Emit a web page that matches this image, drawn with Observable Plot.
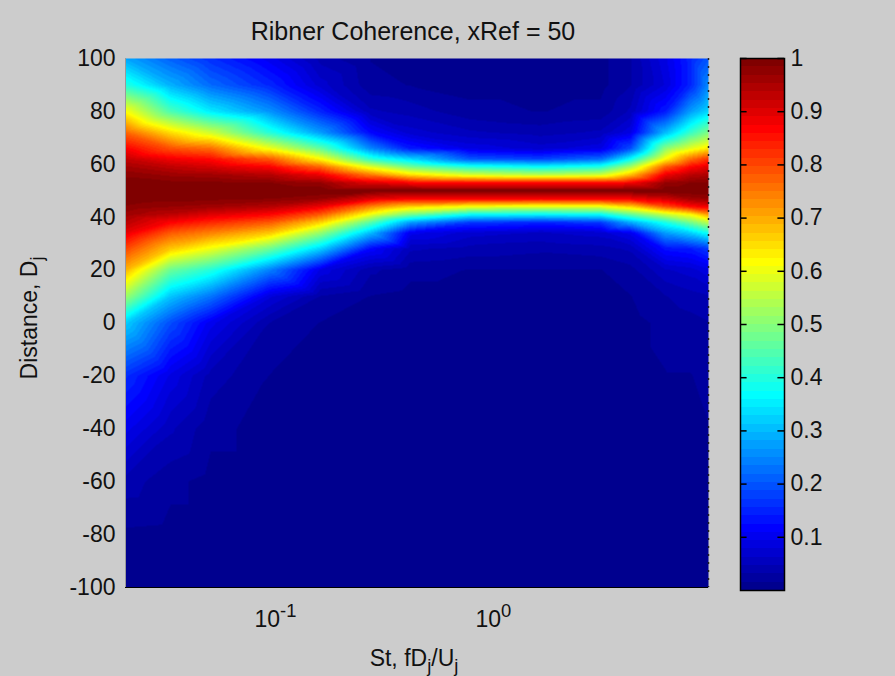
<!DOCTYPE html>
<html>
<head>
<meta charset="utf-8">
<script src="https://cdn.jsdelivr.net/npm/d3@7"></script>
<script src="https://cdn.jsdelivr.net/npm/@observablehq/plot@0.6"></script>
<style>
  html, body { margin: 0; padding: 0; background: #cccccc; }
  #fig { position: relative; width: 895px; height: 676px; background: #cccccc;
         font-family: "Liberation Sans", Arial, Helvetica, sans-serif; }
  #fig svg { position: absolute; left: 0; top: 0; overflow: visible; }
</style>
</head>
<body>
<div id="fig"></div>
<script>
// Strouhal numbers of the sampled columns (log-spaced across the band)
const st = [0.0205, 0.033, 0.0504, 0.0948, 0.161, 0.273, 0.416, 0.784, 1.64, 3.10, 4.25, 6.15, 8.02, 9.7];

// Axial distance of each sample row, in jet diameters
const distance = [-100, -80, -60, -40, -20, 0, 10, 20, 28, 34, 38, 41, 44, 47, 50, 53, 56, 59, 62, 66, 72, 80, 90, 100];

// Coherence with the reference point xRef = 50, one row per Strouhal number
// (values listed from distance -100 up to +100)
const coherence = [
  [0.01, 0.012, 0.04, 0.10, 0.16, 0.32, 0.52, 0.69, 0.80, 0.89, 0.935, 0.962, 0.983, 0.996, 1, 0.995, 0.98, 0.957, 0.925, 0.87, 0.77, 0.615, 0.40, 0.28],
  [0.01, 0.01, 0.02, 0.05, 0.09, 0.19, 0.31, 0.47, 0.67, 0.78, 0.869, 0.932, 0.97, 0.992, 1, 0.99, 0.965, 0.93, 0.88, 0.79, 0.65, 0.44, 0.29, 0.21],
  [0.01, 0.01, 0.01, 0.02, 0.04, 0.10, 0.23, 0.40, 0.60, 0.74, 0.83, 0.90, 0.96, 0.99, 1, 0.99, 0.96, 0.91, 0.86, 0.76, 0.57, 0.35, 0.22, 0.16],
  [0.01, 0.01, 0.01, 0.01, 0.015, 0.03, 0.08, 0.24, 0.47, 0.67, 0.78, 0.865, 0.94, 0.985, 1, 0.985, 0.94, 0.87, 0.78, 0.60, 0.40, 0.26, 0.15, 0.10],
  [0.01, 0.01, 0.01, 0.01, 0.01, 0.015, 0.03, 0.09, 0.32, 0.51, 0.66, 0.78, 0.885, 0.97, 1, 0.97, 0.885, 0.77, 0.62, 0.46, 0.27, 0.15, 0.07, 0.04],
  [0.01, 0.01, 0.01, 0.01, 0.01, 0.01, 0.015, 0.035, 0.12, 0.30, 0.45, 0.60, 0.74, 0.90, 1, 0.90, 0.75, 0.59, 0.41, 0.25, 0.12, 0.05, 0.02, 0.015],
  [0.01, 0.01, 0.01, 0.01, 0.01, 0.01, 0.01, 0.02, 0.05, 0.10, 0.27, 0.48, 0.66, 0.875, 1, 0.87, 0.65, 0.48, 0.33, 0.14, 0.07, 0.04, 0.015, 0.01],
  [0.01, 0.01, 0.01, 0.01, 0.01, 0.01, 0.01, 0.015, 0.04, 0.07, 0.17, 0.37, 0.61, 0.875, 1, 0.86, 0.58, 0.40, 0.20, 0.09, 0.05, 0.02, 0.01, 0.01],
  [0.01, 0.01, 0.01, 0.01, 0.01, 0.01, 0.01, 0.015, 0.035, 0.06, 0.15, 0.36, 0.59, 0.875, 1, 0.86, 0.55, 0.37, 0.18, 0.07, 0.04, 0.015, 0.01, 0.01],
  [0.01, 0.01, 0.01, 0.01, 0.01, 0.01, 0.01, 0.015, 0.04, 0.07, 0.17, 0.37, 0.60, 0.875, 1, 0.86, 0.57, 0.40, 0.22, 0.09, 0.05, 0.02, 0.01, 0.01],
  [0.01, 0.01, 0.01, 0.01, 0.01, 0.01, 0.015, 0.025, 0.05, 0.10, 0.28, 0.46, 0.66, 0.88, 1, 0.875, 0.68, 0.53, 0.37, 0.19, 0.09, 0.05, 0.03, 0.03],
  [0.01, 0.01, 0.01, 0.01, 0.015, 0.02, 0.03, 0.06, 0.13, 0.27, 0.39, 0.56, 0.79, 0.915, 1, 0.97, 0.885, 0.78, 0.62, 0.50, 0.30, 0.14, 0.08, 0.09],
  [0.01, 0.01, 0.01, 0.01, 0.015, 0.025, 0.04, 0.07, 0.14, 0.32, 0.48, 0.62, 0.86, 0.96, 1, 0.985, 0.935, 0.865, 0.76, 0.59, 0.42, 0.27, 0.15, 0.15],
  [0.01, 0.01, 0.01, 0.015, 0.02, 0.03, 0.045, 0.09, 0.17, 0.38, 0.55, 0.71, 0.885, 0.97, 1, 0.99, 0.95, 0.90, 0.82, 0.64, 0.49, 0.33, 0.25, 0.20]
];

const xTicks = [0.1, 1];
const yTicks = [-100, -80, -60, -40, -20, 0, 20, 40, 60, 80, 100];
const cbTicks = [0.1, 0.2, 0.3, 0.4, 0.5, 0.6, 0.7, 0.8, 0.9, 1];

const W = 895, H = 676;
const FONT = '"Liberation Sans", Arial, Helvetica, sans-serif';
const INK = "#111";
const xDomain = [st[0], st[st.length - 1]];

// 64-level jet colormap
const NLEV = 64;
function jet(t) {
  const i = Math.max(0, Math.min(NLEV - 1, Math.floor(t * NLEV)));
  const x = (i + 1) / NLEV;
  const c = v => Math.round(255 * Math.max(0, Math.min(1, v)));
  return `rgb(${c(1.5 - Math.abs(4 * x - 3))},${c(1.5 - Math.abs(4 * x - 2))},${c(1.5 - Math.abs(4 * x - 1))})`;
}

const samples = st.flatMap((s, i) => distance.map((d, j) => ({st: s, d, c: coherence[i][j]})));

const main = Plot.plot({
  width: W, height: H,
  marginLeft: 125, marginRight: W - 708, marginTop: 58, marginBottom: H - 587,
  style: {background: "transparent", fontFamily: FONT, fontSize: "23px", color: INK},
  x: {type: "log", domain: xDomain},
  y: {domain: [-100, 100]},
  color: {type: "linear", domain: [0, 1], interpolate: jet},
  marks: [
    Plot.raster(samples, {
      x: "st", y: "d", fill: "c", interpolate: "barycentric",
      x1: xDomain[0], x2: xDomain[1], y1: -100, y2: 100
    }),
    Plot.ruleX([xDomain[0]], {stroke: "#9a9a9a", strokeWidth: 1}),
    Plot.ruleX([xDomain[1]], {stroke: "#222", strokeWidth: 1.5, strokeDasharray: "2,6"}),
    Plot.ruleY([-100], {stroke: "#000", strokeWidth: 1.2}),
    Plot.axisY(yTicks, {tickSize: 0, tickPadding: 10, fontSize: 23, label: null, tickFormat: d => String(d)}),
    Plot.axisX(xTicks, {
      tickSize: 0, tickPadding: 23, fontSize: 23, label: null,
      tickFormat: d => String(Math.round(Math.log10(d)))
    })
  ]
});

// decade labels as 10 with a raised exponent
d3.select(main).selectAll('g[aria-label="x-axis tick label"] text').each(function () {
  const e = this.textContent;
  const t = d3.select(this).text(null);
  t.append("tspan").text("10");
  t.append("tspan").attr("dy", "-0.55em").attr("font-size", "0.8em").text(e);
});

const svg = d3.select(main);
// title
svg.append("text")
  .attr("x", 413).attr("y", 40)
  .attr("text-anchor", "middle")
  .attr("font-family", FONT).attr("font-size", 25).attr("fill", INK)
  .text("Ribner Coherence, xRef = 50");

// x-axis label with subscripts
const xl = svg.append("text")
  .attr("x", 414).attr("y", 666)
  .attr("text-anchor", "middle")
  .attr("font-family", FONT).attr("font-size", 23).attr("fill", INK);
xl.append("tspan").text("St, fD");
xl.append("tspan").attr("dy", "0.35em").attr("font-size", "0.8em").text("j");
xl.append("tspan").attr("dy", "-0.28em").text("/U");
xl.append("tspan").attr("dy", "0.35em").attr("font-size", "0.8em").text("j");

// y-axis label with subscript
const yl = svg.append("text")
  .attr("transform", "translate(37,318) rotate(-90)")
  .attr("text-anchor", "middle")
  .attr("font-family", FONT).attr("font-size", 23).attr("fill", INK);
yl.append("tspan").text("Distance, D");
yl.append("tspan").attr("dy", "0.35em").attr("font-size", "0.8em").text("j");

// colorbar
const levels = d3.range(NLEV);
const bar = Plot.plot({
  width: W, height: H,
  marginLeft: 740, marginRight: W - 784, marginTop: 58, marginBottom: H - 590,
  style: {background: "transparent", fontFamily: FONT, fontSize: "23px", color: INK},
  x: {domain: [0, 1], axis: null},
  y: {domain: [0, 1], axis: null},
  color: {type: "identity"},
  marks: [
    Plot.rect(levels, {
      x1: 0, x2: 1,
      y1: i => i / NLEV, y2: i => (i + 1) / NLEV,
      fill: i => jet((i + 0.5) / NLEV),
      shapeRendering: "crispEdges"
    }),
    Plot.ruleY(cbTicks, {x1: 0, x2: 0.15, stroke: "#000", strokeWidth: 1.5}),
    Plot.ruleY(cbTicks, {x1: 0.85, x2: 1, stroke: "#000", strokeWidth: 1.5}),
    Plot.frame({stroke: "#000", strokeWidth: 1.5}),
    Plot.text(cbTicks, {
      x: 1, y: d => d, text: d => String(d),
      textAnchor: "start", dx: 6, fontSize: 23, fill: INK
    })
  ]
});

const fig = document.getElementById("fig");
fig.appendChild(main);
fig.appendChild(bar);
</script>
</body>
</html>
